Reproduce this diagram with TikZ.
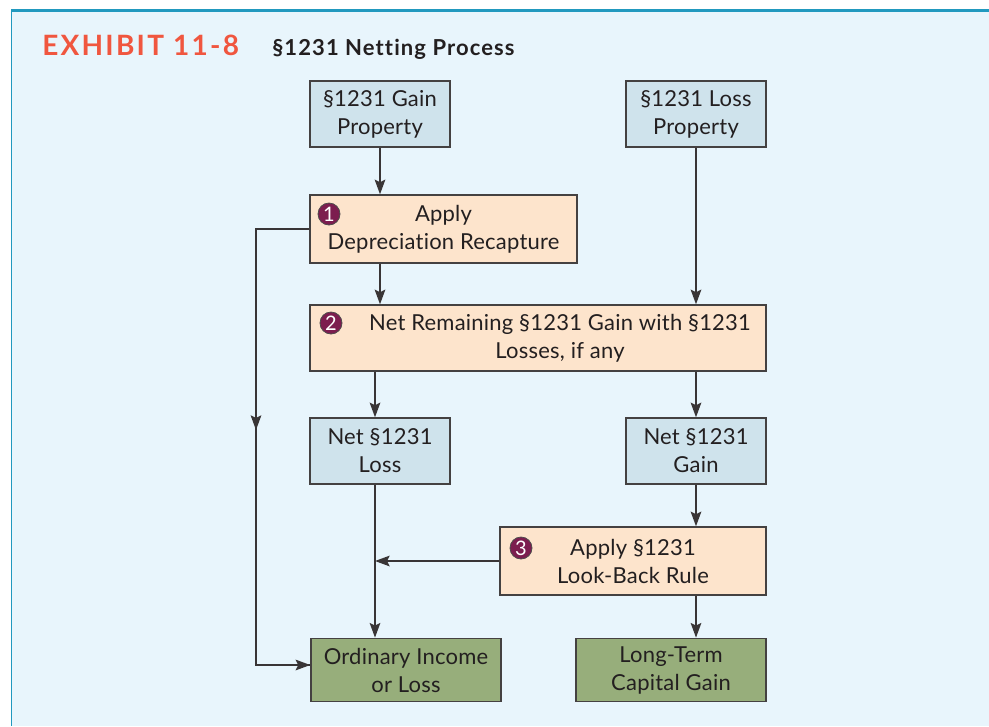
\documentclass[tikz,border=0pt]{standalone}
\usepackage{fontspec}
\setmainfont{Lato}[Ligatures=NoCommon]
\usepackage{tikz}
\usetikzlibrary{positioning,arrows.meta,calc}
\definecolor{ink}{HTML}{231F20}
\definecolor{panel}{HTML}{E8F5FC}
\definecolor{rim}{HTML}{2199BF}
\definecolor{azul}{HTML}{CFE3EC}
\definecolor{melon}{HTML}{FDE4CC}
\definecolor{oliva}{HTML}{97AE7B}
\definecolor{vino}{HTML}{7C1D4F}
\definecolor{rojo}{HTML}{F0563F}
\newfontfamily\cajafont{Lato}[Ligatures=NoCommon,LetterSpace=1]
\newfontfamily\titfont{Lato}[Ligatures=NoCommon,LetterSpace=8]
\newfontfamily\subfont{Lato}[Ligatures=NoCommon,LetterSpace=5]
\tikzset{
  caja/.style={draw=ink!85,line width=1.1pt,align=center,font=\cajafont\fontsize{16.5}{21}\selectfont,inner sep=2pt,text=ink},
  cajaazul/.style={caja,fill=azul,minimum width=105pt,minimum height=49.5pt},
  cajapaso/.style={caja,fill=melon,minimum height=51pt},
  cajafin/.style={caja,fill=oliva,minimum width=142.5pt,minimum height=47.5pt},
  num/.style={circle,fill=vino,draw=ink!80,line width=0.6pt,text=white,inner sep=0pt,minimum size=16.5pt,font=\fontsize{15}{15}\selectfont},
  flecha/.style={-{Stealth[length=11pt,width=8pt,inset=2pt]},line width=1.1pt,color=ink!90},
  linea/.style={line width=1.1pt,color=ink!90},
}
\begin{document}
\begin{tikzpicture}[x=0.75pt,y=-0.75pt]
  \useasboundingbox (0,0) rectangle (989,726);
  % panel
  \fill[panel] (11,9) rectangle (989,726);
  \draw[rim,line width=2.2pt] (11,10.5) -- (989,10.5);
  \draw[rim,line width=1.1pt] (11.5,9) -- (11.5,726);
  \node[anchor=base west,font=\titfont\fontsize{21}{21}\selectfont\bfseries,text=rojo,inner sep=0pt] (exh) at (42,55) {EXHIBIT 11-8};
  \node[anchor=base west,font=\subfont\fontsize{16.5}{16.5}\selectfont\bfseries,text=ink,inner sep=0pt] (tit) at (272,55) {§1231 Netting Process};

  \node[cajaazul] (gprop) at (380,114) {§1231 Gain\\Property};
  \node[cajaazul] (lprop) at (696,114) {§1231 Loss\\Property};
  \node[cajapaso,minimum width=200pt] (recap) at (443.5,229) {Apply\\Depreciation Recapture};
  \node[cajapaso,minimum width=342pt,minimum height=49.5pt] (netrem) at (538,338) {};
  \node[align=center,font=\cajafont\fontsize{16.5}{21}\selectfont,text=ink,inner sep=0pt] (netremtxt) at (560,338) {Net Remaining §1231 Gain with §1231\\Losses, if any};
  \node[cajaazul] (nloss) at (380,451) {Net §1231\\Loss};
  \node[cajaazul] (ngain) at (696,451) {Net §1231\\Gain};
  \node[cajapaso,minimum width=199.5pt] (lookb) at (633,561) {Apply §1231\\Look-Back Rule};
  \node[cajafin] (ordin) at (406,670) {Ordinary Income\\or Loss};
  \node[cajafin] (ltcg) at (671,670) {Long-Term\\Capital Gain};

  \node[num] (n1) at (329,214) {1};
  \node[num] (n2) at (331,323) {2};
  \node[num] (n3) at (521,548) {3};

  \draw[flecha] (gprop) -- (recap.north -| gprop);
  \draw[flecha] (lprop) -- (netrem.north -| lprop);
  \draw[flecha] (recap.south -| gprop) -- (netrem.north -| gprop);
  \draw[flecha] ($(netrem.south -| nloss)+(-5,0)$) -- ($(nloss.north)+(-5,0)$);
  \draw[flecha] (netrem.south -| ngain) -- (ngain);
  \draw[flecha] (ngain) -- (lookb.north -| ngain);
  \draw[flecha] (lookb.south -| ngain) -- (ltcg.north -| ngain);
  \draw[flecha] ($(nloss.south)+(-5,0)$) -- ($(ordin.north -| nloss)+(-5,0)$);
  \draw[flecha] (lookb.west) -- ($(lookb.west -| nloss)+(-5,0)$);
  \coordinate (esq) at (256,229);
  \draw[linea] (recap.west) -- (esq) -- (256,665) -- (ordin.west |- 0,665);
  \draw[flecha] (esq) -- (256,430);
  \draw[flecha] (256,665) -- (ordin.west |- 0,665);
\end{tikzpicture}
\end{document}
